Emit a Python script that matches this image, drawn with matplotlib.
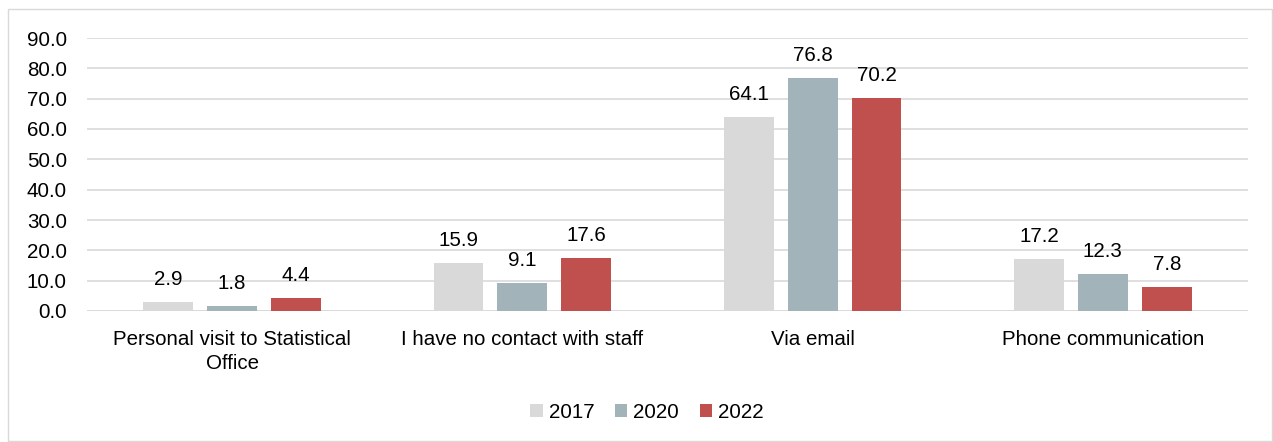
import matplotlib
matplotlib.use("Agg")
import matplotlib.pyplot as plt
import numpy as np
from matplotlib.patches import Rectangle

categories = ["Personal visit to Statistical\nOffice", "I have no contact with staff", "Via email", "Phone communication"]
series_names = ["2017", "2020", "2022"]
v2017 = [2.9, 15.9, 64.1, 17.2]
v2020 = [1.8, 9.1, 76.8, 12.3]
v2022 = [4.4, 17.6, 70.2, 7.8]
colors = ["#D9D9D9", "#A2B4BA", "#C0504D"]
yticks = [0, 10, 20, 30, 40, 50, 60, 70, 80, 90]

plt.rcParams['font.family'] = ['Liberation Sans', 'DejaVu Sans']
FS = 14.8

fig = plt.figure(figsize=(12.73, 4.42), dpi=100)
ax = fig.add_axes([87/1273, 1-311/442, (1248-87)/1273, (311-38)/442])

fig.patches.append(Rectangle((8/1273, 1-441/442), (1272-8)/1273, (441-9)/442,
                             transform=fig.transFigure, fill=False, edgecolor="#D9D9D9", lw=1))

x = np.arange(len(categories))
w = 0.172
step = 0.22
for i, (vals, name, c) in enumerate(zip([v2017, v2020, v2022], series_names, colors)):
    pos = x + (i - 1) * step
    ax.bar(pos, vals, w, color=c, label=name, zorder=3)
    for p, v in zip(pos, vals):
        ax.annotate(f"{v:.1f}", (p, v), xytext=(0, 12.2), textcoords="offset points",
                    ha="center", va="baseline", fontsize=FS, color="#000000")

ax.set_xlim(-0.5, len(categories) - 0.5)
ax.set_ylim(0, 90)
ax.set_yticks(yticks)
ax.set_yticklabels([f"{t:.1f}" for t in yticks], fontsize=FS)
ax.set_xticks(x)
ax.set_xticklabels(categories, fontsize=FS, linespacing=1.35)
ax.tick_params(length=0)
ax.tick_params(axis='y', pad=14.5)
ax.tick_params(axis='x', pad=13.5)
for s in ax.spines.values():
    s.set_visible(False)
ax.grid(axis='y', color="#D9D9D9", lw=1.2, zorder=0)
ax.axhline(0, color="#D9D9D9", lw=1.2, zorder=2)

leg = fig.legend(loc="center", bbox_to_anchor=(647/1273, 1-412/442), ncol=3, frameon=False,
                 fontsize=FS, handlelength=0.6, handleheight=0.6, handletextpad=0.3, columnspacing=1.0)

fig.savefig("out.png", dpi=100)
